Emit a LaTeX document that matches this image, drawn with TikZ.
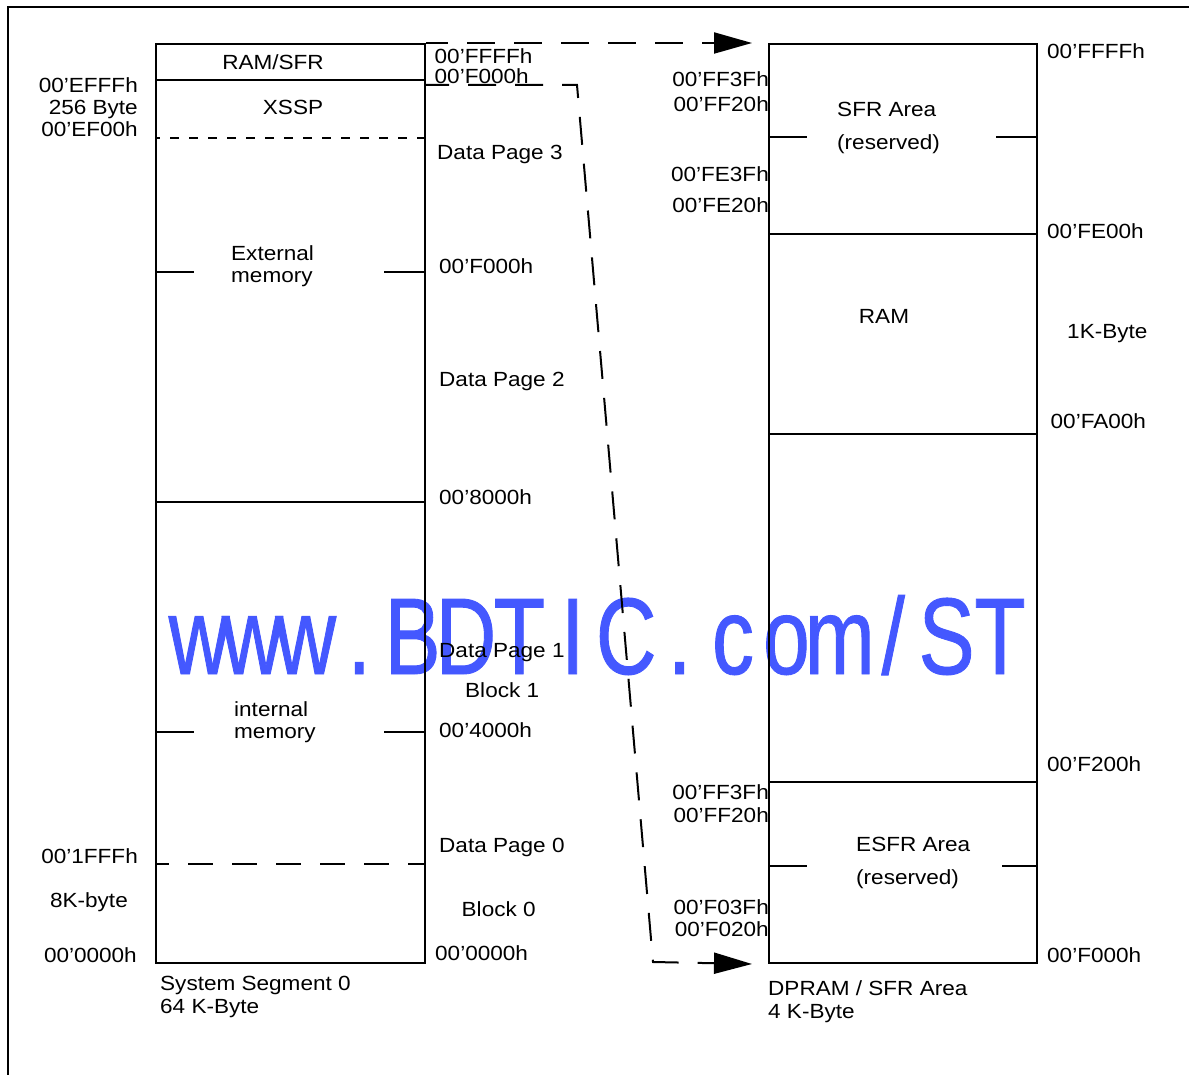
\documentclass[tikz,border=0pt]{standalone}
\usepackage{fontspec}
\setmainfont{Liberation Sans}[FakeStretch=1.1]
\newfontfamily\markfont{Liberation Sans}[FakeStretch=0.77,FakeBold=0.8]
\usetikzlibrary{arrows.meta}
\definecolor{markblue}{RGB}{68,88,255}

\begin{document}
\begin{tikzpicture}[
    x=1pt,
    y=-1pt,
    >={Triangle[length=38pt,width=21pt]},
    memline/.style={line width=2pt},
    membox/.style={draw,line width=2pt,inner sep=0pt,anchor=north west},
    memlabel/.style={inner sep=0pt,font=\fontsize{20.5}{24}\selectfont},
    maplink/.style={->,line width=2pt,dash pattern=on 28pt off 19pt},
    watermark/.style={inner sep=0pt,text=markblue,font=\markfont\fontsize{109}{112}\selectfont}
  ]
    \useasboundingbox (0,0) rectangle (1189,1075);
    \foreach \ch [count=\i from 0] in {w,w,w,.,B,D,T,I,C,.,c,o,m,/,S,T}
      \node[watermark,anchor=base] (mark\i) at (199+53.4*\i,674) {\ch};

    \draw[memline] (7.5,1075) -- (7.5,7.5) -- (1189,7.5);

    % system segment 0
    \node[membox,minimum width=269pt,minimum height=919pt] (seg) at (155,43) {};
    \draw[memline] (155,80.5) -- (424,80.5);
    \draw[line width=1.6pt,dash pattern=on 9pt off 10pt,dash phase=4pt]
      (155,138) -- (424,138);
    \draw[memline] (155,502) -- (424,502);
    \draw[memline,dash pattern=on 25pt off 19pt,dash phase=11pt]
      (155,863.5) -- (424,863.5);
    \draw[memline] (155,272) -- (194,272) (384,272) -- (424,272);
    \draw[memline] (155,732) -- (194,732) (384,732) -- (424,732);

    \node[memlabel,anchor=base] (ramsfr) at (273,70) {RAM/SFR};
    \node[memlabel,anchor=base] (xssp) at (293,115) {XSSP};
    \node[memlabel,anchor=base west] (extA) at (231,260.5) {External};
    \node[memlabel,anchor=base west] (extB) at (231,283) {memory};
    \node[memlabel,anchor=base west] (intA) at (234,716) {internal};
    \node[memlabel,anchor=base west] (intB) at (234,738.5) {memory};

    \node[memlabel,anchor=base east] (xsspTop) at (138,93) {00’EFFFh};
    \node[memlabel,anchor=base east] (xsspSize) at (138,115) {256 Byte};
    \node[memlabel,anchor=base east] (xsspBot) at (138,137) {00’EF00h};
    \node[memlabel,anchor=base east] (intTop) at (138,863) {00’1FFFh};
    \node[memlabel,anchor=base east] (intSize) at (128,907) {8K-byte};
    \node[memlabel,anchor=base east] (segBase) at (137,962.5) {00’0000h};
    \node[memlabel,anchor=base west] (segName) at (160,990) {System Segment 0};
    \node[memlabel,anchor=base west] (segSize) at (160,1013) {64 K-Byte};

    % data pages
    \node[memlabel,anchor=base west] (pgTop) at (434.5,64) {00’FFFFh};
    \node[memlabel,anchor=base west] (pgSub) at (434.5,84) {00’F000h};
    \node[memlabel,anchor=base west] (dp3) at (437,160) {Data Page 3};
    \node[memlabel,anchor=base west] (adrF) at (439,274) {00’F000h};
    \node[memlabel,anchor=base west] (dp2) at (439,386) {Data Page 2};
    \node[memlabel,anchor=base west] (adr8) at (439,504) {00’8000h};
    \node[memlabel,anchor=base west] (dp1) at (439,657) {Data Page 1};
    \node[memlabel,anchor=base west] (blk1) at (465,697) {Block 1};
    \node[memlabel,anchor=base west] (adr4) at (439,737) {00’4000h};
    \node[memlabel,anchor=base west] (dp0) at (439,852.5) {Data Page 0};
    \node[memlabel,anchor=base west] (blk0) at (461.5,916.5) {Block 0};
    \node[memlabel,anchor=base west] (adr0) at (435,960) {00’0000h};

    % dpram / sfr area
    \node[membox,minimum width=268pt,minimum height=919pt] (dpram) at (768,43) {};
    \draw[memline] (768,234) -- (1036,234);
    \draw[memline] (768,434) -- (1036,434);
    \draw[memline] (768,782) -- (1036,782);
    \draw[memline] (768,137.5) -- (807,137.5) (996,137.5) -- (1036,137.5);
    \draw[memline] (768,866) -- (807,866) (1002,866) -- (1036,866);

    \node[memlabel,anchor=base west] (sfrA) at (837,117) {SFR Area};
    \node[memlabel,anchor=base west] (sfrB) at (837,150) {(reserved)};
    \node[memlabel,anchor=base] (ram) at (884,323.5) {RAM};
    \node[memlabel,anchor=base west] (esfrA) at (856,851.5) {ESFR Area};
    \node[memlabel,anchor=base west] (esfrB) at (856,884) {(reserved)};

    \node[memlabel,anchor=base east] (sfrHi) at (769,87) {00’FF3Fh};
    \node[memlabel,anchor=base east] (sfrLo) at (769,111.5) {00’FF20h};
    \node[memlabel,anchor=base east] (sfrxHi) at (769,181.5) {00’FE3Fh};
    \node[memlabel,anchor=base east] (sfrxLo) at (769,212.5) {00’FE20h};
    \node[memlabel,anchor=base east] (esfrHi) at (769,799) {00’FF3Fh};
    \node[memlabel,anchor=base east] (esfrLo) at (769,822) {00’FF20h};
    \node[memlabel,anchor=base east] (esfrxHi) at (769,914) {00’F03Fh};
    \node[memlabel,anchor=base east] (esfrxLo) at (769,936.5) {00’F020h};

    \node[memlabel,anchor=base west] (dpTop) at (1047,58.5) {00’FFFFh};
    \node[memlabel,anchor=base west] (dpSfr) at (1047,238.5) {00’FE00h};
    \node[memlabel,anchor=base west] (dpSize) at (1067,338.5) {1K-Byte};
    \node[memlabel,anchor=base west] (dpRam) at (1050.5,428.5) {00’FA00h};
    \node[memlabel,anchor=base west] (dpEsfr) at (1047,771) {00’F200h};
    \node[memlabel,anchor=base west] (dpBase) at (1047,962) {00’F000h};
    \node[memlabel,anchor=base west] (dpName) at (768,995) {DPRAM / SFR Area};
    \node[memlabel,anchor=base west] (dpKB) at (768,1018) {4 K-Byte};

    % mapping
    \coordinate (pageTop) at (424,85);
    \coordinate (fold) at (577,85);
    \coordinate (foot) at (653,962);
    \draw[maplink,dash phase=6pt] (seg.north east) -- ([xshift=-16pt]dpram.north west);
    \draw[maplink,dash phase=3pt] (pageTop) -- (fold) -- (foot)
      -- ([xshift=-16pt]dpram.south west);
  \end{tikzpicture}
\end{document}
